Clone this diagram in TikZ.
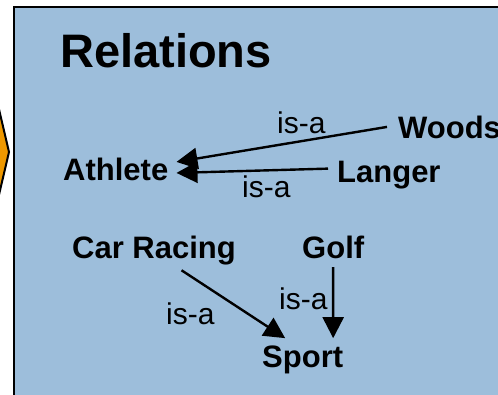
\documentclass[tikz,border=0pt]{standalone}
\usepackage{fontspec}
\setmainfont{Liberation Sans}
\usetikzlibrary{arrows.meta}
\definecolor{panelblue}{RGB}{157,190,219}
\definecolor{hexorange}{RGB}{238,152,0}
\begin{document}
\begin{tikzpicture}[x=1pt,y=-1pt,
  concept/.style={inner sep=0pt,anchor=base west,font=\fontsize{31}{31}\selectfont\bfseries},
  relname/.style={inner sep=0pt,anchor=base west,font=\fontsize{30}{30}\selectfont},
  heading/.style={inner sep=0pt,anchor=base west,font=\fontsize{47}{47}\selectfont\bfseries},
  isa/.style={line width=2.4pt,-{Triangle[length=21pt,width=21pt]}}]
\useasboundingbox (0,0) rectangle (498,394);
\clip (0,0) rectangle (498,394);
% neighbouring hexagon, cut off at the left
\draw[fill=hexorange,line width=2pt] (-40,105) -- (-2,105) -- (9,152) -- (-2,199) -- (-40,199) -- cycle;
% panel
\draw[fill=panelblue,line width=2.5pt] (14,7) rectangle (520,420);
% title
\node[heading] (title) at (60,67) {Relations};
% concepts
\node[concept] (athlete) at (63,180) {Athlete};
\node[concept] (woods) at (398,138) {Woods};
\node[concept] (langer) at (337,182) {Langer};
\node[concept] (racing) at (72,258) {Car Racing};
\node[concept] (golf) at (302,258) {Golf};
\node[concept] (sport) at (262,367) {Sport};
% relation labels
\node[relname] (l1) at (277,133) {is-a};
\node[relname] (l2) at (242,197) {is-a};
\node[relname] (l3) at (166,324) {is-a};
\node[relname] (l4) at (279,309) {is-a};
% is-a links
\draw[isa] ([shift={(-11,0)}]woods.west) -- ([shift={(8,-7)}]athlete.east);
\draw[isa] ([shift={(-9,-6)}]langer.west) -- ([shift={(8,4)}]athlete.east);
\draw[isa] ([shift={(27.5,5.5)}]racing.south) -- ([shift={(-17.5,-7)}]sport.north);
\draw[isa] ([shift={(0,8.5)}]golf.south) -- ([shift={(30.5,-7)}]sport.north);
\end{tikzpicture}
\end{document}
